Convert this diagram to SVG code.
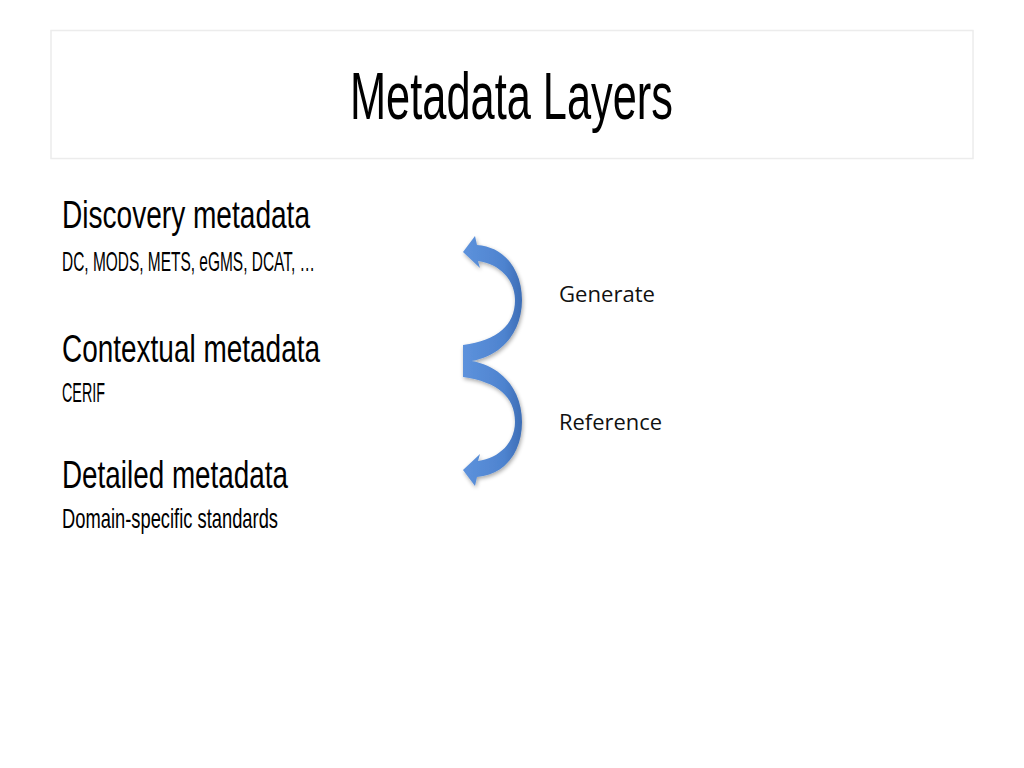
<svg xmlns="http://www.w3.org/2000/svg" width="1024" height="768" viewBox="0 0 1024 768">
<style>
.cond{font-family:"Liberation Sans","DejaVu Sans",sans-serif;fill:#000}
.h{font-size:39px}
.s{font-size:28px}
.lbl{font-family:"Open Sans","Liberation Sans",sans-serif;font-size:21px;fill:#111}
</style>
<defs>
<linearGradient id="ag" x1="0" y1="0" x2="1" y2="0">
<stop offset="0" stop-color="#5d92dc"/>
<stop offset="0.7" stop-color="#4e83cf"/>
<stop offset="1" stop-color="#3d6db5"/>
</linearGradient>
<filter id="sh" x="-20%" y="-20%" width="140%" height="140%">
<feGaussianBlur in="SourceAlpha" stdDeviation="2"/>
<feOffset dx="1" dy="2"/>
<feComponentTransfer><feFuncA type="linear" slope="0.35"/></feComponentTransfer>
<feMerge><feMergeNode/><feMergeNode in="SourceGraphic"/></feMerge>
</filter>
</defs>
<rect width="1024" height="768" fill="#fff"/>
<g id="title">
<rect x="51" y="30.5" width="922" height="128" fill="#fff" stroke="#ececec" stroke-width="1.5"/>
<text class="cond" x="350" y="119" font-size="67" textLength="323" lengthAdjust="spacingAndGlyphs">Metadata Layers</text>
</g>
<g id="discovery">
<text class="cond h" x="62" y="228" textLength="248" lengthAdjust="spacingAndGlyphs">Discovery metadata</text>
<text class="cond s" x="62" y="271" textLength="253" lengthAdjust="spacingAndGlyphs">DC, MODS, METS, eGMS, DCAT, …</text>
</g>
<g id="contextual">
<text class="cond h" x="62" y="362" textLength="258" lengthAdjust="spacingAndGlyphs">Contextual metadata</text>
<text class="cond s" x="62" y="402" textLength="43" lengthAdjust="spacingAndGlyphs">CERIF</text>
</g>
<g id="detailed">
<text class="cond h" x="62" y="488" textLength="226" lengthAdjust="spacingAndGlyphs">Detailed metadata</text>
<text class="cond s" x="62" y="528" textLength="216" lengthAdjust="spacingAndGlyphs">Domain-specific standards</text>
</g>
<g id="connectors" filter="url(#sh)">
<path id="generate-arrow" fill="url(#ag)" d="M 463 345 C 498 340 515 325 515 300 C 515 280 500 264 478 261 L 480 268 L 463 252 L 475 236 L 477 245 C 505 247 522 270 522 300 C 522 335 498 360 463 362 Z"/>
<path id="reference-arrow" fill="url(#ag)" d="M 463 376 C 498 381 515 396 515 421 C 515 441 500 457 478 460 L 480 453 L 463 469 L 475 485 L 477 476 C 505 474 522 451 522 421 C 522 386 498 361 463 359 Z" transform="translate(0,1)"/>
</g>
<g id="labels">
<text class="lbl" x="559" y="302" textLength="96" lengthAdjust="spacingAndGlyphs">Generate</text>
<text class="lbl" x="559" y="430" textLength="103" lengthAdjust="spacingAndGlyphs">Reference</text>
</g>
</svg>
